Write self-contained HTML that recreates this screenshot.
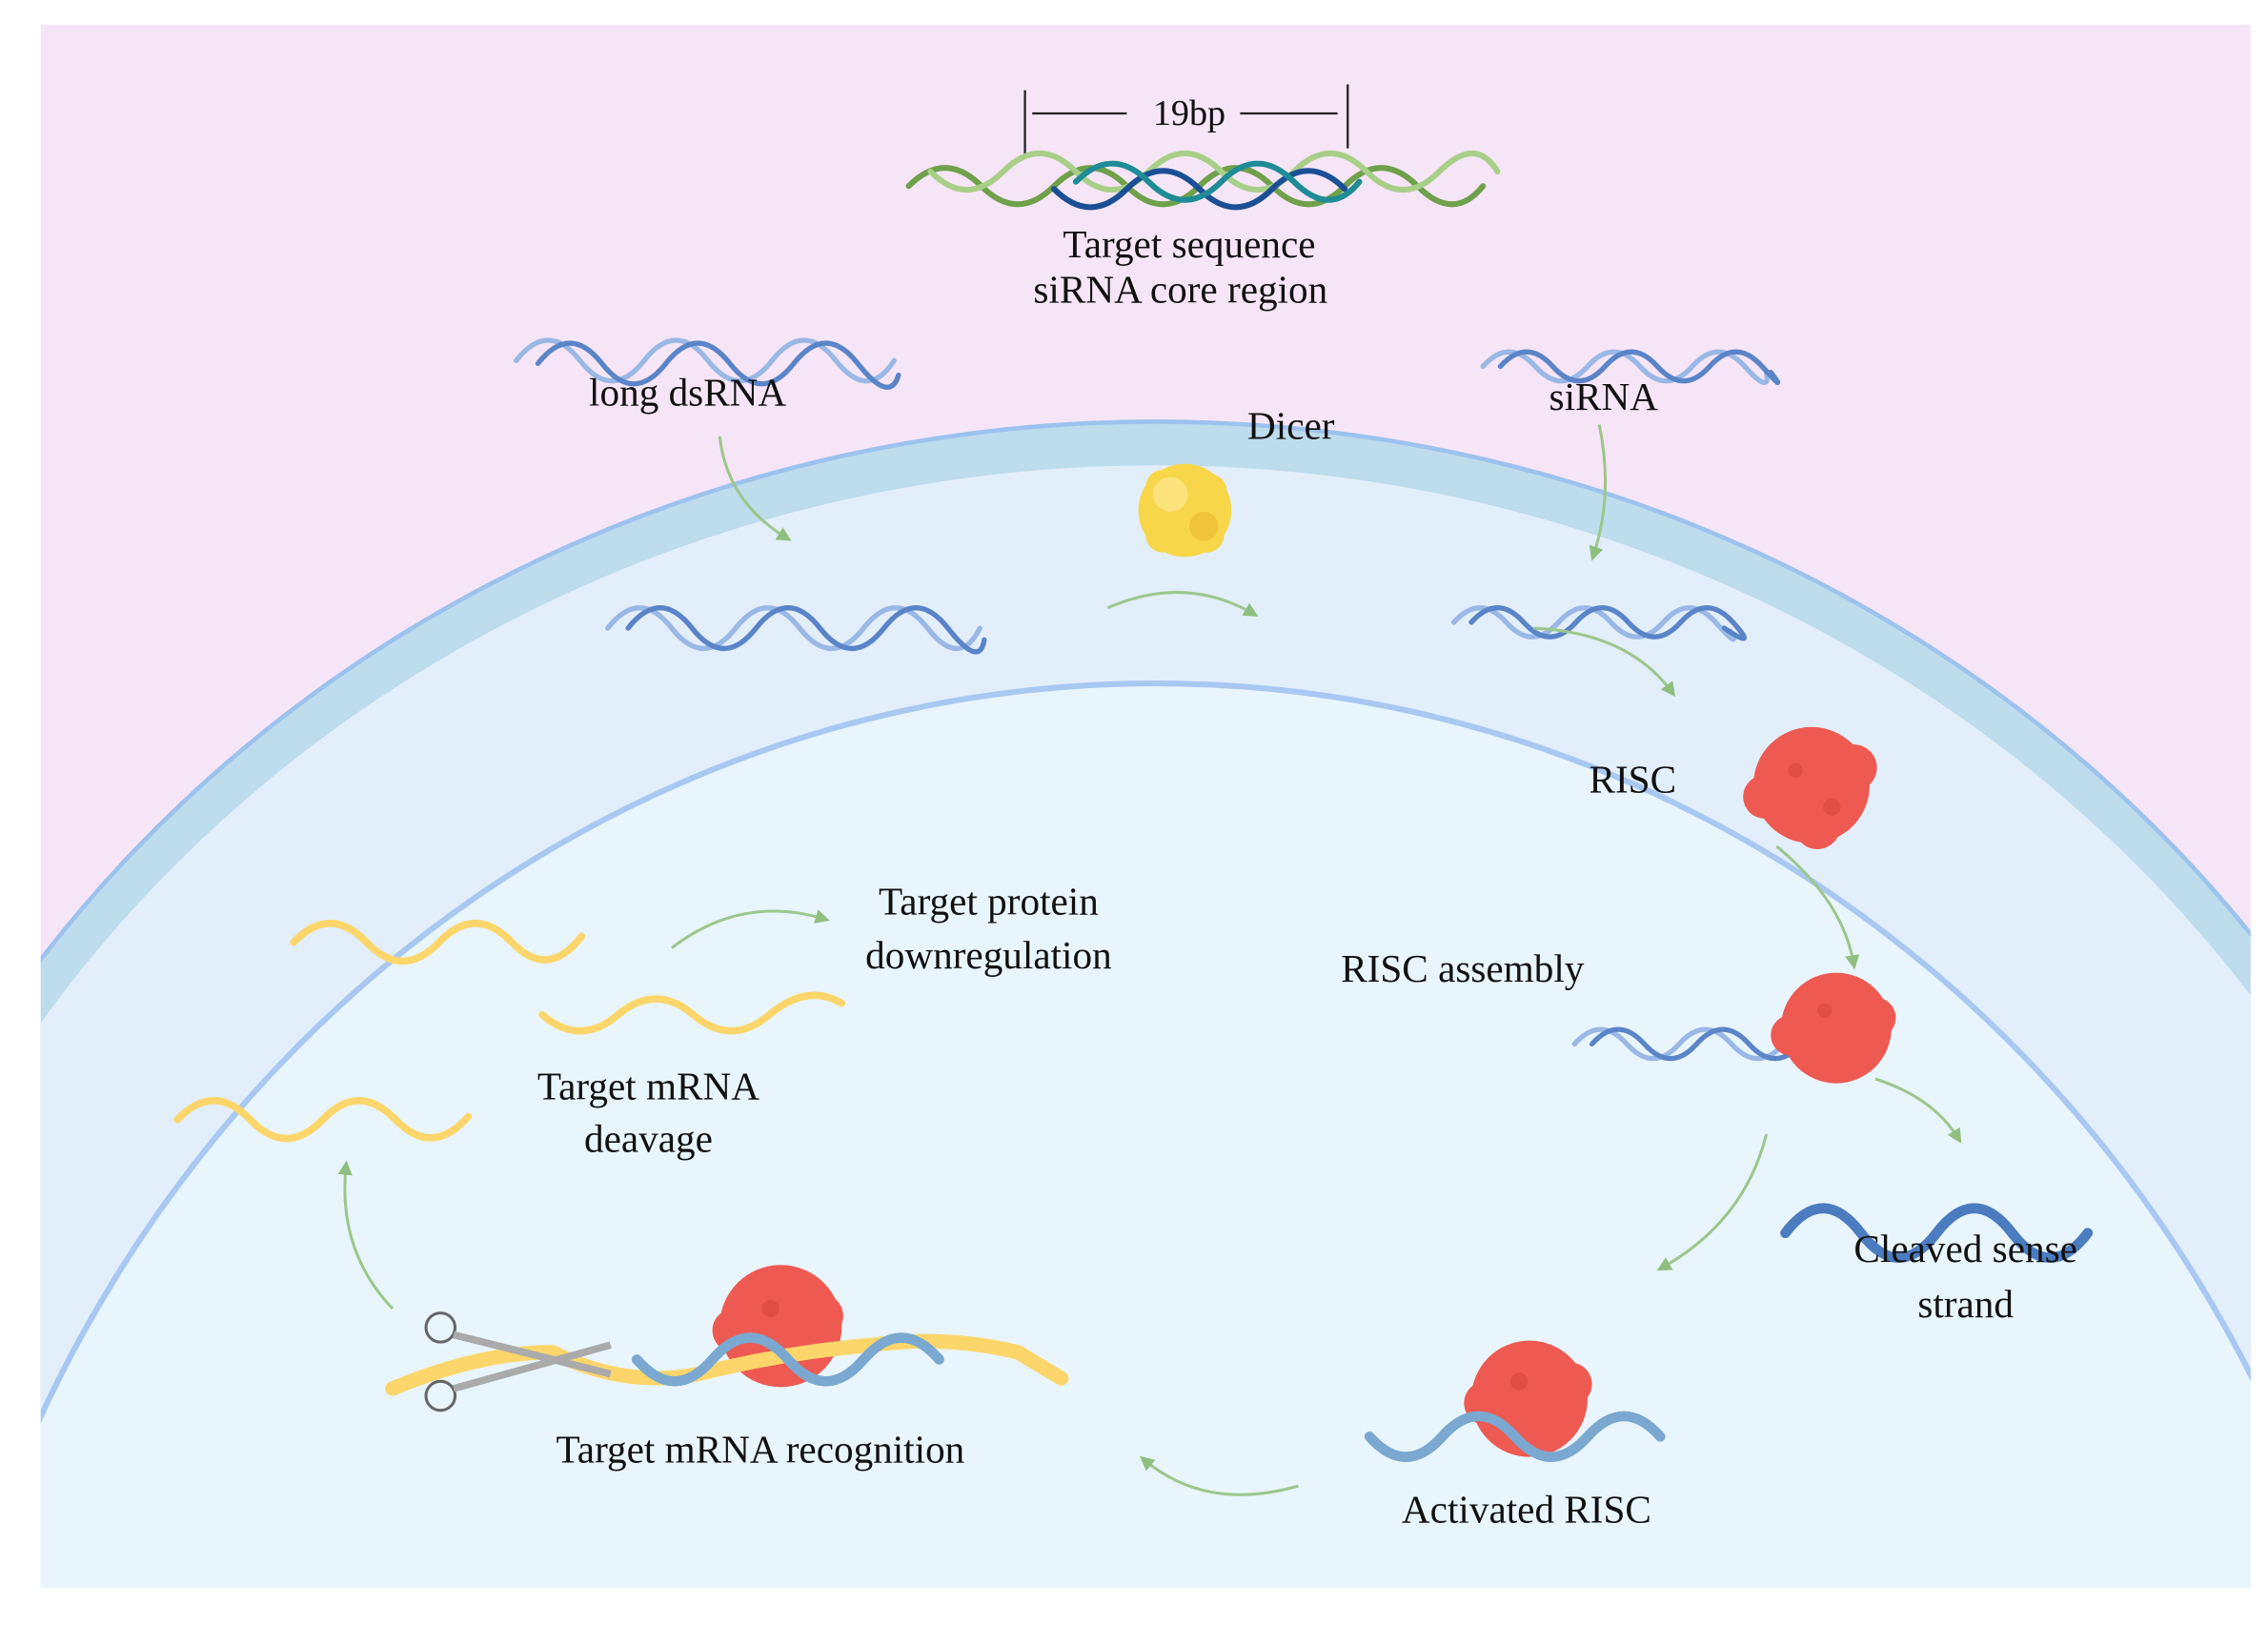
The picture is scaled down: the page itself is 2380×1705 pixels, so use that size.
<!DOCTYPE html>
<html><head><meta charset="utf-8"><style>
html,body{margin:0;padding:0;background:#fff;width:2380px;height:1705px;overflow:hidden}
svg{display:block}
text{font-family:"Liberation Serif",serif;font-size:27px;fill:#111;text-anchor:middle}
</style></head><body>
<svg width="2380" height="1705" viewBox="0 0 1560 1117.6" preserveAspectRatio="none" xmlns="http://www.w3.org/2000/svg">
<defs>
<clipPath id="c"><rect x="28" y="17" width="1520" height="1075"/></clipPath>
<marker id="ah" viewBox="0 0 10 10" refX="6" refY="5" markerWidth="5" markerHeight="5" orient="auto"><path d="M0,0 L10,5 L0,10 z" fill="#8fbf7f"/></marker>
</defs>
<rect x="0" y="0" width="1560" height="1118" fill="#fff"/>
<rect x="28" y="17" width="1520" height="1075" fill="#f6e5f6"/>
<g clip-path="url(#c)">
<ellipse cx="795" cy="1190" rx="949" ry="900" fill="#bddcec" stroke="#9cc2ee" stroke-width="3"/>
<ellipse cx="795" cy="1200" rx="929" ry="880" fill="#e3eefb"/>
<ellipse cx="795" cy="1370" rx="854" ry="900" fill="#e9f5fc" stroke="#a8c8f2" stroke-width="4"/>
</g>
<g stroke="#222" stroke-width="1.5">
<line x1="705" y1="62" x2="705" y2="106"/><line x1="927" y1="58" x2="927" y2="102"/>
<line x1="710" y1="78" x2="775" y2="78"/><line x1="853" y1="78" x2="920" y2="78"/>
</g>
<text x="818" y="86" style="font-size:25px">19bp</text>
<g fill="none" stroke-width="4" stroke-linecap="round">
<path d="M625 128 q25 -25 50 0 t50 0 t50 0 t50 0 t50 0 t50 0 t50 0 t45 0" stroke="#6fa04a"/>
<path d="M640 118 q25 25 50 0 t50 0 t50 0 t50 0 t50 0 t50 0 t50 0 t40 0" stroke="#a8cf88"/>
<path d="M725 130 q25 25 50 0 t50 0 t50 0 t50 0" stroke="#1a4f96"/>
<path d="M740 125 q25 -25 50 0 t50 0 t50 0 t45 0" stroke="#1e8c96"/>
</g>
<text x="818" y="177">Target sequence</text>
<text x="812" y="208">siRNA core region</text>
<g fill="none" stroke-width="3.5" stroke-linecap="round">
<path d="M355 248 q22 -28 44 0 t44 0 t44 0 t44 0 t44 0 t40 0" stroke="#9ab8e6"/>
<path d="M370 250 q22 -28 44 0 t44 0 t44 0 t44 0 t44 0 t28 8" stroke="#5a84c8"/>
<path d="M418 432 q22 -28 44 0 t44 0 t44 0 t44 0 t44 0 t36 0" stroke="#9ab8e6"/>
<path d="M432 432 q22 -28 44 0 t44 0 t44 0 t44 0 t44 0 t25 8" stroke="#5a84c8"/>
<path d="M1020 252 q18 -20 36 0 t36 0 t36 0 t36 0 t36 0 t15 4" stroke="#9ab8e6"/>
<path d="M1032 252 q18 -20 36 0 t36 0 t36 0 t36 0 t36 0 t6 4" stroke="#5a84c8"/>
<path d="M1000 428 q18 -20 36 0 t36 0 t36 0 t36 0 t36 0 t10 6" stroke="#9ab8e6"/>
<path d="M1012 428 q18 -20 36 0 t36 0 t36 0 t36 0 t36 0 t-6 4" stroke="#5a84c8"/>
<path d="M1083 718 q18 -20 36 0 t36 0 t36 0 t36 0 t36 0" stroke="#9ab8e6"/>
<path d="M1095 718 q18 -20 36 0 t36 0 t36 0 t36 0 t30 4" stroke="#5a84c8"/>
<path d="M1228 848 q26 -34 52 0 t52 0 t52 0 t52 0" stroke="#4c7cc0" stroke-width="7"/>
</g>
<text x="473" y="279">long dsRNA</text>
<text x="1103" y="282">siRNA</text>
<text x="888" y="302">Dicer</text>
<g>
<circle cx="815" cy="351" r="32" fill="#f8d64a"/>
<circle cx="800" cy="335" r="12" fill="#f8d64a"/><circle cx="832" cy="338" r="12" fill="#f8d64a"/><circle cx="800" cy="368" r="12" fill="#f8d64a"/><circle cx="830" cy="368" r="12" fill="#f8d64a"/>
<circle cx="805" cy="340" r="12" fill="#fbe27a"/>
<circle cx="828" cy="362" r="10" fill="#f0c43a"/>
</g>
<g fill="none" stroke="#9cc78c" stroke-width="2" marker-end="url(#ah)">
<path d="M495 300 Q500 345 541 370"/>
<path d="M762 418 Q815 395 862 422"/>
<path d="M1100 292 Q1110 340 1096 382"/>
<path d="M1055 432 Q1120 435 1150 476"/>
<path d="M1222 582 Q1268 620 1275 663"/>
<path d="M1290 742 Q1330 755 1347 783"/>
<path d="M1215 780 Q1200 840 1143 872"/>
<path d="M893 1022 Q830 1040 787 1004"/>
<path d="M270 900 Q232 860 238 802"/>
<path d="M462 652 Q510 615 567 632"/>
</g>
<g fill="#ee5a52">
<circle cx="1246" cy="540" r="40"/><circle cx="1214" cy="548" r="15"/><circle cx="1275" cy="528" r="16"/><circle cx="1250" cy="568" r="16"/>
<circle cx="1263" cy="707" r="38"/><circle cx="1232" cy="712" r="14"/><circle cx="1290" cy="700" r="14"/>
<circle cx="1052" cy="962" r="40"/><circle cx="1022" cy="965" r="15"/><circle cx="1080" cy="952" r="15"/>
<circle cx="537" cy="912" r="42"/><circle cx="505" cy="915" r="15"/><circle cx="565" cy="905" r="15"/>
</g>
<g fill="#d84640" opacity="0.6">
<circle cx="1235" cy="530" r="5"/><circle cx="1260" cy="555" r="6"/><circle cx="1255" cy="695" r="5"/><circle cx="1045" cy="950" r="6"/><circle cx="530" cy="900" r="6"/>
</g>
<text x="1123" y="545">RISC</text>
<text x="1006" y="675">RISC assembly</text>
<text x="1352" y="868">Cleaved sense</text>
<text x="1352" y="906">strand</text>
<path d="M942 988 q25 28 50 0 t50 0 t50 0 t50 0" fill="none" stroke="#7aa8d0" stroke-width="7" stroke-linecap="round"/>
<text x="1050" y="1047">Activated RISC</text>
<g fill="none" stroke="#fcd66a" stroke-width="5" stroke-linecap="round">
<path d="M202 648 q25 -26 50 0 t50 0 t50 0 t48 -4"/>
<path d="M373 698 q26 22 52 0 t52 0 t52 0 t50 -8"/>
<path d="M122 770 q25 -26 50 0 t50 0 t50 0 t50 -2"/>
<path d="M270 955 Q330 930 380 930 Q430 955 480 945 Q540 930 600 925 Q650 918 700 930 L730 948" stroke-width="10"/>
</g>
<path d="M438 935 q26 30 52 0 t52 0 t52 0 t52 0" fill="none" stroke="#7aa8d0" stroke-width="7" stroke-linecap="round"/>
<g stroke="#666" stroke-width="2" fill="none">
<circle cx="303" cy="913" r="10"/><circle cx="303" cy="960" r="10"/>
<path d="M312 918 L420 945 M312 955 L420 925" stroke="#aaa" stroke-width="5"/>
</g>
<text x="523" y="1006">Target mRNA recognition</text>
<text x="680" y="629">Target protein</text>
<text x="680" y="666">downregulation</text>
<text x="446" y="756">Target mRNA</text>
<text x="446" y="792">deavage</text>
</svg>
</body></html>
